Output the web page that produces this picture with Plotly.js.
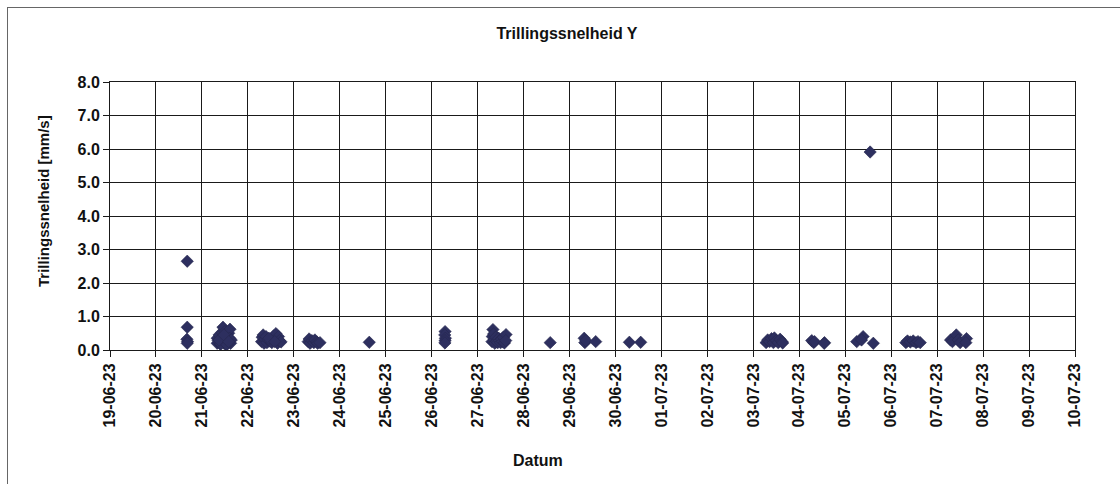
<!DOCTYPE html>
<html>
<head>
<meta charset="utf-8">
<script src="https://cdn.plot.ly/plotly-3.0.1.min.js"></script>
<style>
  html, body { margin: 0; padding: 0; background: #fff; }
  #wrap { position: relative; width: 1120px; height: 484px; overflow: hidden; }
  #chart { width: 1120px; height: 484px; }
  #frame { position: absolute; left: 7px; top: 7px; width: 1200px; height: 600px;
           border-left: 1px solid #666; border-top: 1px solid #666; pointer-events: none; }
</style>
</head>
<body>
<div id="wrap">
  <div id="chart"></div>
  <div id="frame"></div>
</div>
<script>
// ---- data ----
const chartTitle = "Trillingssnelheid Y";
const yTitle = "Trillingssnelheid [mm/s]";
const xTitle = "Datum";

const times = [
  // 20-06
  "2023-06-20 16:20","2023-06-20 16:20","2023-06-20 16:10","2023-06-20 16:30","2023-06-20 16:20",
  // 21-06
  "2023-06-21 08:00","2023-06-21 08:00","2023-06-21 08:30","2023-06-21 09:00","2023-06-21 09:30",
  "2023-06-21 10:00","2023-06-21 10:30","2023-06-21 11:00","2023-06-21 11:00","2023-06-21 11:30",
  "2023-06-21 12:00","2023-06-21 12:00","2023-06-21 12:30","2023-06-21 13:00","2023-06-21 13:30",
  "2023-06-21 14:00","2023-06-21 14:40","2023-06-21 14:30","2023-06-21 15:00","2023-06-21 15:20",
  "2023-06-21 10:00","2023-06-21 13:00","2023-06-21 09:00","2023-06-21 11:30","2023-06-21 14:00",
  // 22-06
  "2023-06-22 07:10","2023-06-22 07:30","2023-06-22 08:00","2023-06-22 08:30","2023-06-22 09:00",
  "2023-06-22 09:30","2023-06-22 10:00","2023-06-22 10:30","2023-06-22 11:30","2023-06-22 12:30",
  "2023-06-22 13:00","2023-06-22 13:30","2023-06-22 14:40","2023-06-22 15:00","2023-06-22 15:30",
  "2023-06-22 16:00","2023-06-22 16:30","2023-06-22 17:20","2023-06-22 11:00","2023-06-22 14:00",
  // 23-06
  "2023-06-23 07:30","2023-06-23 08:00","2023-06-23 08:30","2023-06-23 09:30","2023-06-23 10:30",
  "2023-06-23 11:00","2023-06-23 12:00","2023-06-23 12:30","2023-06-23 13:40",
  // 24-06
  "2023-06-24 15:25",
  // 26-06
  "2023-06-26 07:00","2023-06-26 06:50","2023-06-26 07:10","2023-06-26 07:00","2023-06-26 06:55",
  // 27-06
  "2023-06-27 07:30","2023-06-27 07:40","2023-06-27 08:00","2023-06-27 08:20","2023-06-27 08:40",
  "2023-06-27 09:00","2023-06-27 09:30","2023-06-27 10:00","2023-06-27 10:30","2023-06-27 11:00",
  "2023-06-27 11:30","2023-06-27 12:00","2023-06-27 12:30","2023-06-27 13:00","2023-06-27 13:30",
  "2023-06-27 14:00","2023-06-27 14:50","2023-06-27 14:40",
  // 28-06
  "2023-06-28 13:55",
  // 29-06
  "2023-06-29 07:40","2023-06-29 08:00","2023-06-29 08:30","2023-06-29 13:40",
  // 30-06
  "2023-06-30 07:15","2023-06-30 13:10",
  // 03-07
  "2023-07-03 06:40","2023-07-03 07:30","2023-07-03 08:30","2023-07-03 09:30","2023-07-03 10:30",
  "2023-07-03 11:00","2023-07-03 12:00","2023-07-03 13:00","2023-07-03 14:00","2023-07-03 15:00",
  "2023-07-03 15:20",
  // 04-07
  "2023-07-04 06:30","2023-07-04 07:30","2023-07-04 08:00","2023-07-04 13:10","2023-07-04 13:00",
  // 05-07
  "2023-07-05 06:00","2023-07-05 09:20","2023-07-05 08:30","2023-07-05 13:00","2023-07-05 14:40",
  // 06-07
  "2023-07-06 07:40","2023-07-06 08:30","2023-07-06 10:00","2023-07-06 11:30","2023-07-06 13:00",
  "2023-07-06 14:00","2023-07-06 15:10",
  // 07-07
  "2023-07-07 07:00","2023-07-07 08:00","2023-07-07 10:00","2023-07-07 11:00","2023-07-07 12:00",
  "2023-07-07 15:20","2023-07-07 15:00"
];

const velocityY = [
  // 20-06
  2.65, 0.68, 0.32, 0.25, 0.20,
  // 21-06
  0.20, 0.35, 0.28, 0.45, 0.18,
  0.30, 0.52, 0.68, 0.40, 0.22,
  0.55, 0.33, 0.15, 0.45, 0.26,
  0.50, 0.62, 0.35, 0.20, 0.30,
  0.18, 0.16, 0.30, 0.45, 0.25,
  // 22-06
  0.25, 0.38, 0.45, 0.20, 0.32,
  0.40, 0.22, 0.30, 0.27, 0.22,
  0.35, 0.42, 0.49, 0.30, 0.20,
  0.40, 0.28, 0.24, 0.35, 0.25,
  // 23-06
  0.25, 0.33, 0.20, 0.28, 0.22,
  0.30, 0.24, 0.20, 0.22,
  // 24-06
  0.23,
  // 26-06
  0.55, 0.45, 0.35, 0.28, 0.21,
  // 27-06
  0.25, 0.40, 0.61, 0.48, 0.30,
  0.20, 0.38, 0.26, 0.22, 0.35,
  0.28, 0.22, 0.32, 0.25, 0.38,
  0.21, 0.46, 0.28,
  // 28-06
  0.22,
  // 29-06
  0.35, 0.22, 0.28, 0.25,
  // 30-06
  0.23, 0.23,
  // 03-07
  0.22, 0.30, 0.25, 0.34, 0.22,
  0.36, 0.28, 0.22, 0.32, 0.25,
  0.21,
  // 04-07
  0.28, 0.22, 0.25, 0.22, 0.20,
  // 05-07
  0.25, 0.40, 0.30, 5.91, 0.20,
  // 06-07
  0.22, 0.27, 0.24, 0.27, 0.22,
  0.25, 0.22,
  // 07-07
  0.30, 0.25, 0.45, 0.30, 0.22,
  0.34, 0.22
];

const xRange = ["2023-06-19", "2023-07-10"];
const yRange = [0, 8];

const font = "Liberation Sans, Arial, sans-serif";
const gridCol = "#1a1a1a";

const trace = {
  type: "scatter",
  mode: "markers",
  x: times,
  y: velocityY,
  marker: {
    symbol: "diamond",
    size: 9.5,
    color: "#2d2f5f",
    line: { color: "#26284f", width: 0.6 }
  },
  hoverinfo: "x+y"
};

const layout = {
  width: 1120,
  height: 484,
  margin: { l: 110, r: 45, t: 82, b: 134 },
  paper_bgcolor: "#ffffff",
  plot_bgcolor: "#ffffff",
  showlegend: false,
  font: { family: font, color: "#111" },
  title: {
    text: "<b>" + chartTitle + "</b>",
    font: { family: font, size: 16, color: "#111" },
    x: 567 / 1120, xref: "container", xanchor: "center",
    y: 1 - 33 / 484, yref: "container", yanchor: "middle"
  },
  xaxis: {
    type: "date",
    range: xRange,
    dtick: 86400000,
    tick0: "2023-06-19",
    tickformat: "%d-%m-%y",
    tickangle: -90,
    tickfont: { family: font, size: 16, color: "#111", weight: "bold" },
    ticks: "outside",
    ticklen: 6,
    tickcolor: gridCol,
    showgrid: true,
    gridcolor: gridCol,
    gridwidth: 1,
    showline: true,
    linecolor: gridCol,
    linewidth: 1,
    mirror: true,
    zeroline: false,
    fixedrange: true
  },
  yaxis: {
    range: yRange,
    dtick: 1,
    tickformat: ".1f",
    tickfont: { family: font, size: 16, color: "#111", weight: "bold" },
    ticks: "outside",
    ticklen: 6,
    tickcolor: gridCol,
    showgrid: true,
    gridcolor: gridCol,
    gridwidth: 1,
    showline: true,
    linecolor: gridCol,
    linewidth: 1,
    mirror: true,
    zeroline: false,
    fixedrange: true
  },
  annotations: [
    {
      text: "<b>" + xTitle + "</b>",
      xref: "paper", yref: "paper",
      x: (538 - 110) / (1075 - 110), y: -(460 - 350) / (350 - 82),
      xanchor: "center", yanchor: "middle",
      showarrow: false,
      font: { family: font, size: 16, color: "#111" }
    },
    {
      text: "<b>" + yTitle + "</b>",
      xref: "paper", yref: "paper",
      x: -(110 - 43) / (1075 - 110), y: (350 - 201) / (350 - 82),
      xanchor: "center", yanchor: "middle",
      textangle: -90,
      showarrow: false,
      font: { family: font, size: 15, color: "#111" }
    }
  ]
};

Plotly.newPlot("chart", [trace], layout, { displayModeBar: false, staticPlot: true });
</script>
</body>
</html>
